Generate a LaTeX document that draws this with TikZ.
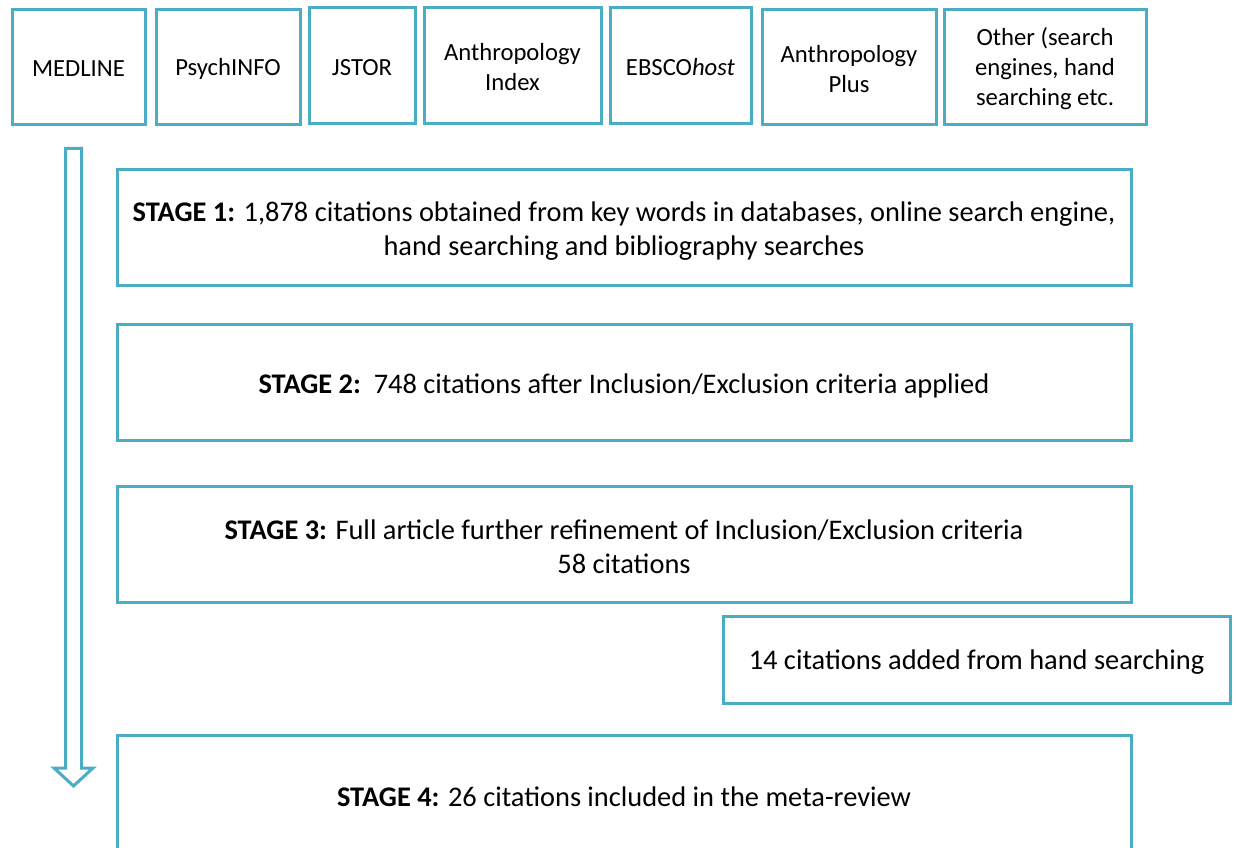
\documentclass[tikz,border=0pt]{standalone}
\usepackage{fontspec}
\setmainfont{Carlito}
\usetikzlibrary{fit}
\definecolor{boxblue}{RGB}{75,172,198}
\begin{document}
\begin{tikzpicture}[x=0.75pt,y=-0.75pt,
  box/.style={draw=boxblue, line width=2.25pt, inner sep=0pt},
  small/.style={align=center, text=black, font=\fontsize{18.5}{22.5}\selectfont, yshift=-1pt},
  big/.style={align=center, text=black, font=\fontsize{21.3}{25.5}\selectfont, yshift=-2pt}]
\useasboundingbox (0,0) rectangle (1236,848);
\clip (0,0) rectangle (1236,848);
% top database boxes
\node[box, fit={(12,10)(145,125)}] (medline) {};
\node[small] (medlinet) at (medline.center) {MEDLINE};
\node[box, fit={(156,10)(300,125)}] (psych) {};
\node[small] (psycht) at (psych.center) {PsychINFO};
\node[box, fit={(309,8)(415,124)}] (jstor) {};
\node[small] (jstort) at (jstor.center) {JSTOR};
\node[box, fit={(424,8)(601,124)}] (anthind) {};
\node[small] (anthindt) at (anthind.center) {Anthropology\\Index};
\node[box, fit={(610,8)(751,124)}] (ebsco) {};
\node[small] (ebscot) at (ebsco.center) {EBSCO\textit{host}};
\node[box, fit={(762,10)(936,125)}] (anthplus) {};
\node[small] (anthplust) at (anthplus.center) {Anthropology\\Plus};
\node[box, fit={(944,10)(1146,125)}] (other) {};
\node[small] (othert) at (other.center) {Other (search\\engines, hand\\searching etc.};
% stage boxes
\node[box, fit={(117,170)(1131,286)}] (s1) {};
\node[big] (s1t) at (s1.center) {\textbf{STAGE 1:} 1,878 citations obtained from key words in databases, online search engine,\\hand searching and bibliography searches};
\node[box, fit={(117,325)(1131,441)}] (s2) {};
\node[big] (s2t) at (s2.center) {\textbf{STAGE 2:}\ \ 748 citations after Inclusion/Exclusion criteria applied};
\node[box, fit={(117,487)(1131,602)}] (s3) {};
\node[big] (s3t) at (s3.center) {\textbf{STAGE 3:} Full article further refinement of Inclusion/Exclusion criteria\\58 citations};
\node[box, fit={(723,616)(1230,703)}] (hand) {};
\node[big] (handt) at (hand.center) {14 citations added from hand searching};
\node[box, fit={(117,735)(1131,853)}] (s4) {};
\node[big] (s4t) at (s4.center) {\textbf{STAGE 4:} 26 citations included in the meta-review};
% block arrow
\draw[boxblue, line width=2.25pt, line join=miter, fill=white]
  (65.5,148.5) -- (81.5,148.5) -- (81.5,768) -- (93,768) -- (73.5,786) -- (54,768) -- (65.5,768) -- cycle;
\end{tikzpicture}
\end{document}
